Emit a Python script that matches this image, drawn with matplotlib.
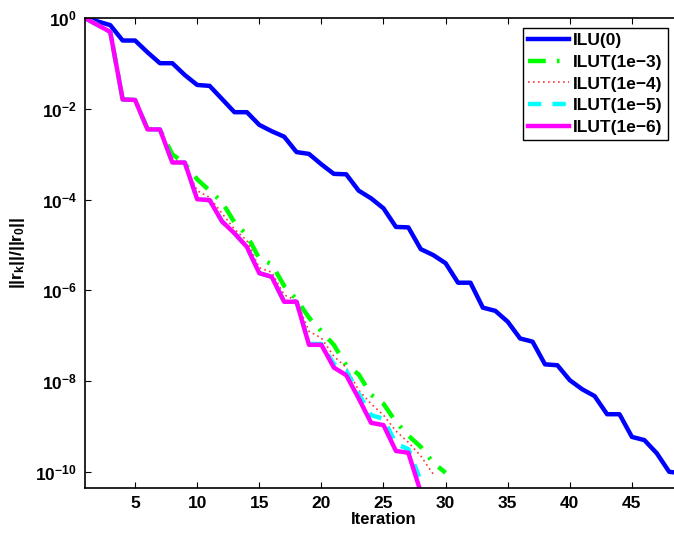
import numpy as np
import matplotlib
matplotlib.use('Agg')
import matplotlib.pyplot as plt
from matplotlib.ticker import FixedLocator, NullLocator

plt.rcParams['font.family'] = ['Liberation Sans', 'DejaVu Sans']
plt.rcParams['font.weight'] = 'bold'
plt.rcParams['mathtext.fontset'] = 'custom'
plt.rcParams['mathtext.rm'] = 'Liberation Sans:bold'
plt.rcParams['mathtext.it'] = 'Liberation Sans:bold'
plt.rcParams['mathtext.bf'] = 'Liberation Sans:bold'

# log10 of relative residual
ilu0 = [0, -0.07, -0.15, -0.49, -0.49, -0.75, -0.99, -0.99, -1.25, -1.47,
        -1.49, -1.78, -2.07, -2.07, -2.35, -2.49, -2.61, -2.95, -2.99, -3.22,
        -3.43, -3.44, -3.80, -3.97, -4.19, -4.60, -4.61, -5.09, -5.22, -5.40,
        -5.83, -5.83, -6.38, -6.45, -6.69, -7.06, -7.13, -7.63, -7.65, -7.98,
        -8.18, -8.33, -8.73, -8.73, -9.23, -9.30, -9.59, -10.00, -10.03]
ilut3 = [0, -0.15, -0.30, -1.79, -1.80, -2.44, -2.45, -3.00, -3.20, -3.55,
         -3.80, -4.05, -4.50, -4.78, -5.30, -5.42, -5.90, -6.20, -6.60, -6.90,
         -7.20, -7.65, -7.85, -8.30, -8.50, -8.90, -9.20, -9.45, -9.80, -10.02]
ilut4 = [0, -0.15, -0.30, -1.79, -1.80, -2.45, -2.45, -3.10, -3.22, -3.80,
         -3.95, -4.30, -4.65, -4.90, -5.50, -5.60, -6.10, -6.22, -6.90, -7.05,
         -7.45, -7.70, -8.20, -8.50, -8.75, -9.10, -9.35, -9.65, -10.05]
ilut5 = [0, -0.15, -0.30, -1.79, -1.80, -2.45, -2.45, -3.18, -3.18, -3.99,
         -4.01, -4.48, -4.74, -5.04, -5.62, -5.70, -6.25, -6.25, -7.18, -7.18,
         -7.62, -7.77, -8.28, -8.75, -8.83, -9.38, -9.50, -10.20]
ilut6 = [0, -0.15, -0.30, -1.79, -1.80, -2.45, -2.45, -3.18, -3.18, -3.99,
         -4.01, -4.48, -4.74, -5.04, -5.62, -5.70, -6.25, -6.25, -7.20, -7.20,
         -7.70, -7.87, -8.38, -8.92, -8.97, -9.54, -9.58, -10.45]

series = [
    ('ILU(0)', ilu0, dict(color='#0000ff', ls='-', lw=3.2)),
    ('ILUT(1e\u22123)', ilut3, dict(color='#00ff00', ls=(0, (4, 2.5, 0.6, 2.5)), lw=3.2)),
    ('ILUT(1e\u22124)', ilut4, dict(color='#ff3333', ls=(0, (1, 2.0)), lw=1.2)),
    ('ILUT(1e\u22125)', ilut5, dict(color='#00ffff', ls=(0, (3, 2.5)), lw=3.2)),
    ('ILUT(1e\u22126)', ilut6, dict(color='#ff00ff', ls='-', lw=3.2)),
]

fig = plt.figure(figsize=(6.74, 5.35), dpi=100)
ax = fig.add_axes([85.4 / 674, 47.3 / 535, 596.2 / 674, 469.4 / 535])

for name, vals, st in series:
    it = np.arange(1, len(vals) + 1)
    ax.semilogy(it, 10.0 ** np.array(vals), label=name, **st)

ax.set_xlim(1, 49)
ax.set_ylim(10 ** -10.35, 1)
ax.xaxis.set_major_locator(FixedLocator([5, 10, 15, 20, 25, 30, 35, 40, 45]))
ax.yaxis.set_major_locator(FixedLocator([1e-10, 1e-8, 1e-6, 1e-4, 1e-2, 1e0]))
ax.yaxis.set_minor_locator(NullLocator())
ax.tick_params(which='both', direction='in', length=4.5, width=0.8,
               top=True, right=True, labelsize=12.5, pad=6)
for sp in ax.spines.values():
    sp.set_linewidth(1.2)

ax.set_xlabel('Iteration', fontsize=12, fontweight='bold', labelpad=1)
ax.set_ylabel(r'$||r_k||/||r_0||$', fontsize=12.5, labelpad=6)

leg = ax.legend(loc='upper right', bbox_to_anchor=(667.7 / 674, 1 - 27.7 / 535),
                bbox_transform=fig.transFigure, borderaxespad=0, fancybox=False,
                framealpha=1, edgecolor='black', fontsize=12.5, handlelength=2.4,
                handletextpad=0.2, labelspacing=0.38, borderpad=0.3)
leg.get_frame().set_linewidth(1.0)
for t in leg.get_texts():
    t.set_fontweight('bold')

fig.savefig('out.png', dpi=100)
